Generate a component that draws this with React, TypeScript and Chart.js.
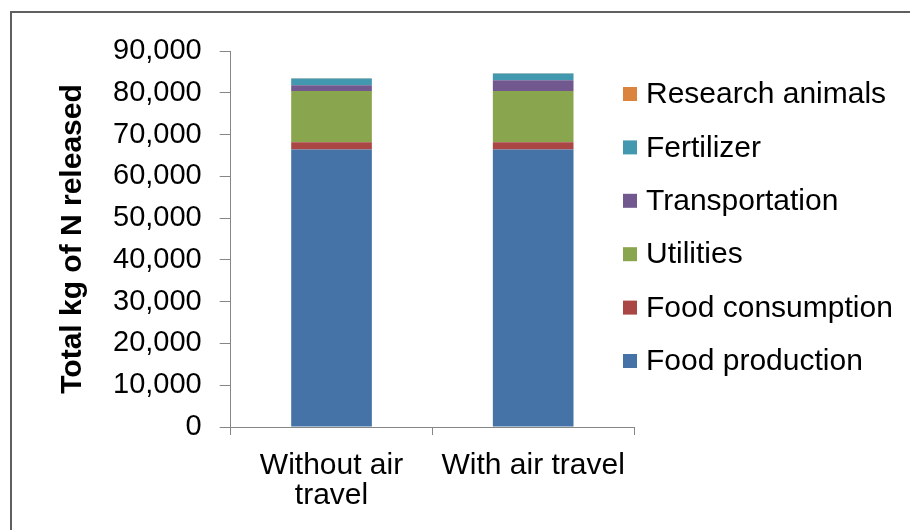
import React, { useEffect, useRef } from "react";
import { Chart, registerables } from "chart.js";

Chart.register(...registerables);

const categories: string[][] = [["Without air", "travel"], ["With air travel"]];
const foodProduction = [66400, 66400];
const foodConsumption = [1750, 1750];
const utilities = [12300, 12300];
const transportation = [1370, 2570];
const fertilizer = [1610, 1610];
const researchAnimals = [60, 60];

const seriesNames = [
  "Food production",
  "Food consumption",
  "Utilities",
  "Transportation",
  "Fertilizer",
  "Research animals",
];
const seriesColors = ["#4572A7", "#AA4643", "#89A54E", "#71588F", "#4198AF", "#DB843D"];
const seriesValues = [foodProduction, foodConsumption, utilities, transportation, fertilizer, researchAnimals];

const FONT = "'Liberation Sans', Arial, sans-serif";

const legendPlugin = {
  id: "customLegend",
  afterDraw(chart: any) {
    const { ctx, chartArea } = chart;
    const ds = chart.data.datasets;
    ctx.save();
    ctx.font = `30px ${FONT}`;
    ctx.textBaseline = "middle";
    ctx.textAlign = "left";
    const x0 = chartArea.right - 11;
    let y = chartArea.top + 43;
    for (let i = ds.length - 1; i >= 0; i--) {
      ctx.fillStyle = ds[i].backgroundColor;
      ctx.fillRect(x0, y - 7, 14, 14);
      ctx.fillStyle = "#000";
      ctx.fillText(ds[i].label, x0 + 23, y + 1);
      y += 53.4;
    }
    ctx.restore();
  },
};

export default function App() {
  const ref = useRef<HTMLCanvasElement | null>(null);
  useEffect(() => {
    if (!ref.current) return;
    const chart = new Chart(ref.current, {
      type: "bar",
      data: {
        labels: categories as any,
        datasets: seriesNames.map((n, i) => ({
          label: n,
          data: seriesValues[i],
          backgroundColor: seriesColors[i],
          borderWidth: 0,
          categoryPercentage: 1,
          barPercentage: 0.4,
        })),
      },
      options: {
        animation: false,
        responsive: false,
        maintainAspectRatio: false,
        layout: { padding: { left: 55, right: 276, top: 51, bottom: 3 } },
        plugins: { legend: { display: false }, tooltip: { enabled: false } },
        scales: {
          x: {
            stacked: true,
            grid: { drawOnChartArea: false, drawTicks: true, tickLength: 8, color: "#868686", offset: true },
            border: { display: true, color: "#868686", width: 1 },
            ticks: { color: "#000", font: { family: FONT, size: 30, lineHeight: 1.0 }, padding: 16, maxRotation: 0 },
          },
          y: {
            stacked: true,
            min: 0,
            max: 90000,
            grid: { drawOnChartArea: false, drawTicks: true, tickLength: 11, color: "#868686" },
            border: { display: true, color: "#868686", width: 1 },
            ticks: {
              stepSize: 10000,
              color: "#000",
              padding: 18,
              font: { family: FONT, size: 29 },
              callback: (v: any) => Number(v).toLocaleString("en-US"),
            },
            title: {
              display: true,
              text: "Total kg of N released",
              color: "#000",
              font: { family: FONT, size: 30, weight: "bold" },
              padding: { top: 0, bottom: 4 },
            },
          },
        },
      },
      plugins: [legendPlugin],
    });
    return () => chart.destroy();
  }, []);
  return (
    <div style={{ position: "fixed", left: 0, top: 0, width: 910, height: 530, background: "#fff", overflow: "hidden" }}>
      <div
        style={{
          position: "absolute",
          left: 10,
          top: 11,
          width: 920,
          height: 540,
          border: "2px solid #5f5f5f",
          boxSizing: "border-box",
        }}
      />
      <canvas ref={ref} width={910} height={530} style={{ position: "absolute", left: 0, top: 0 }} />
    </div>
  );
}
